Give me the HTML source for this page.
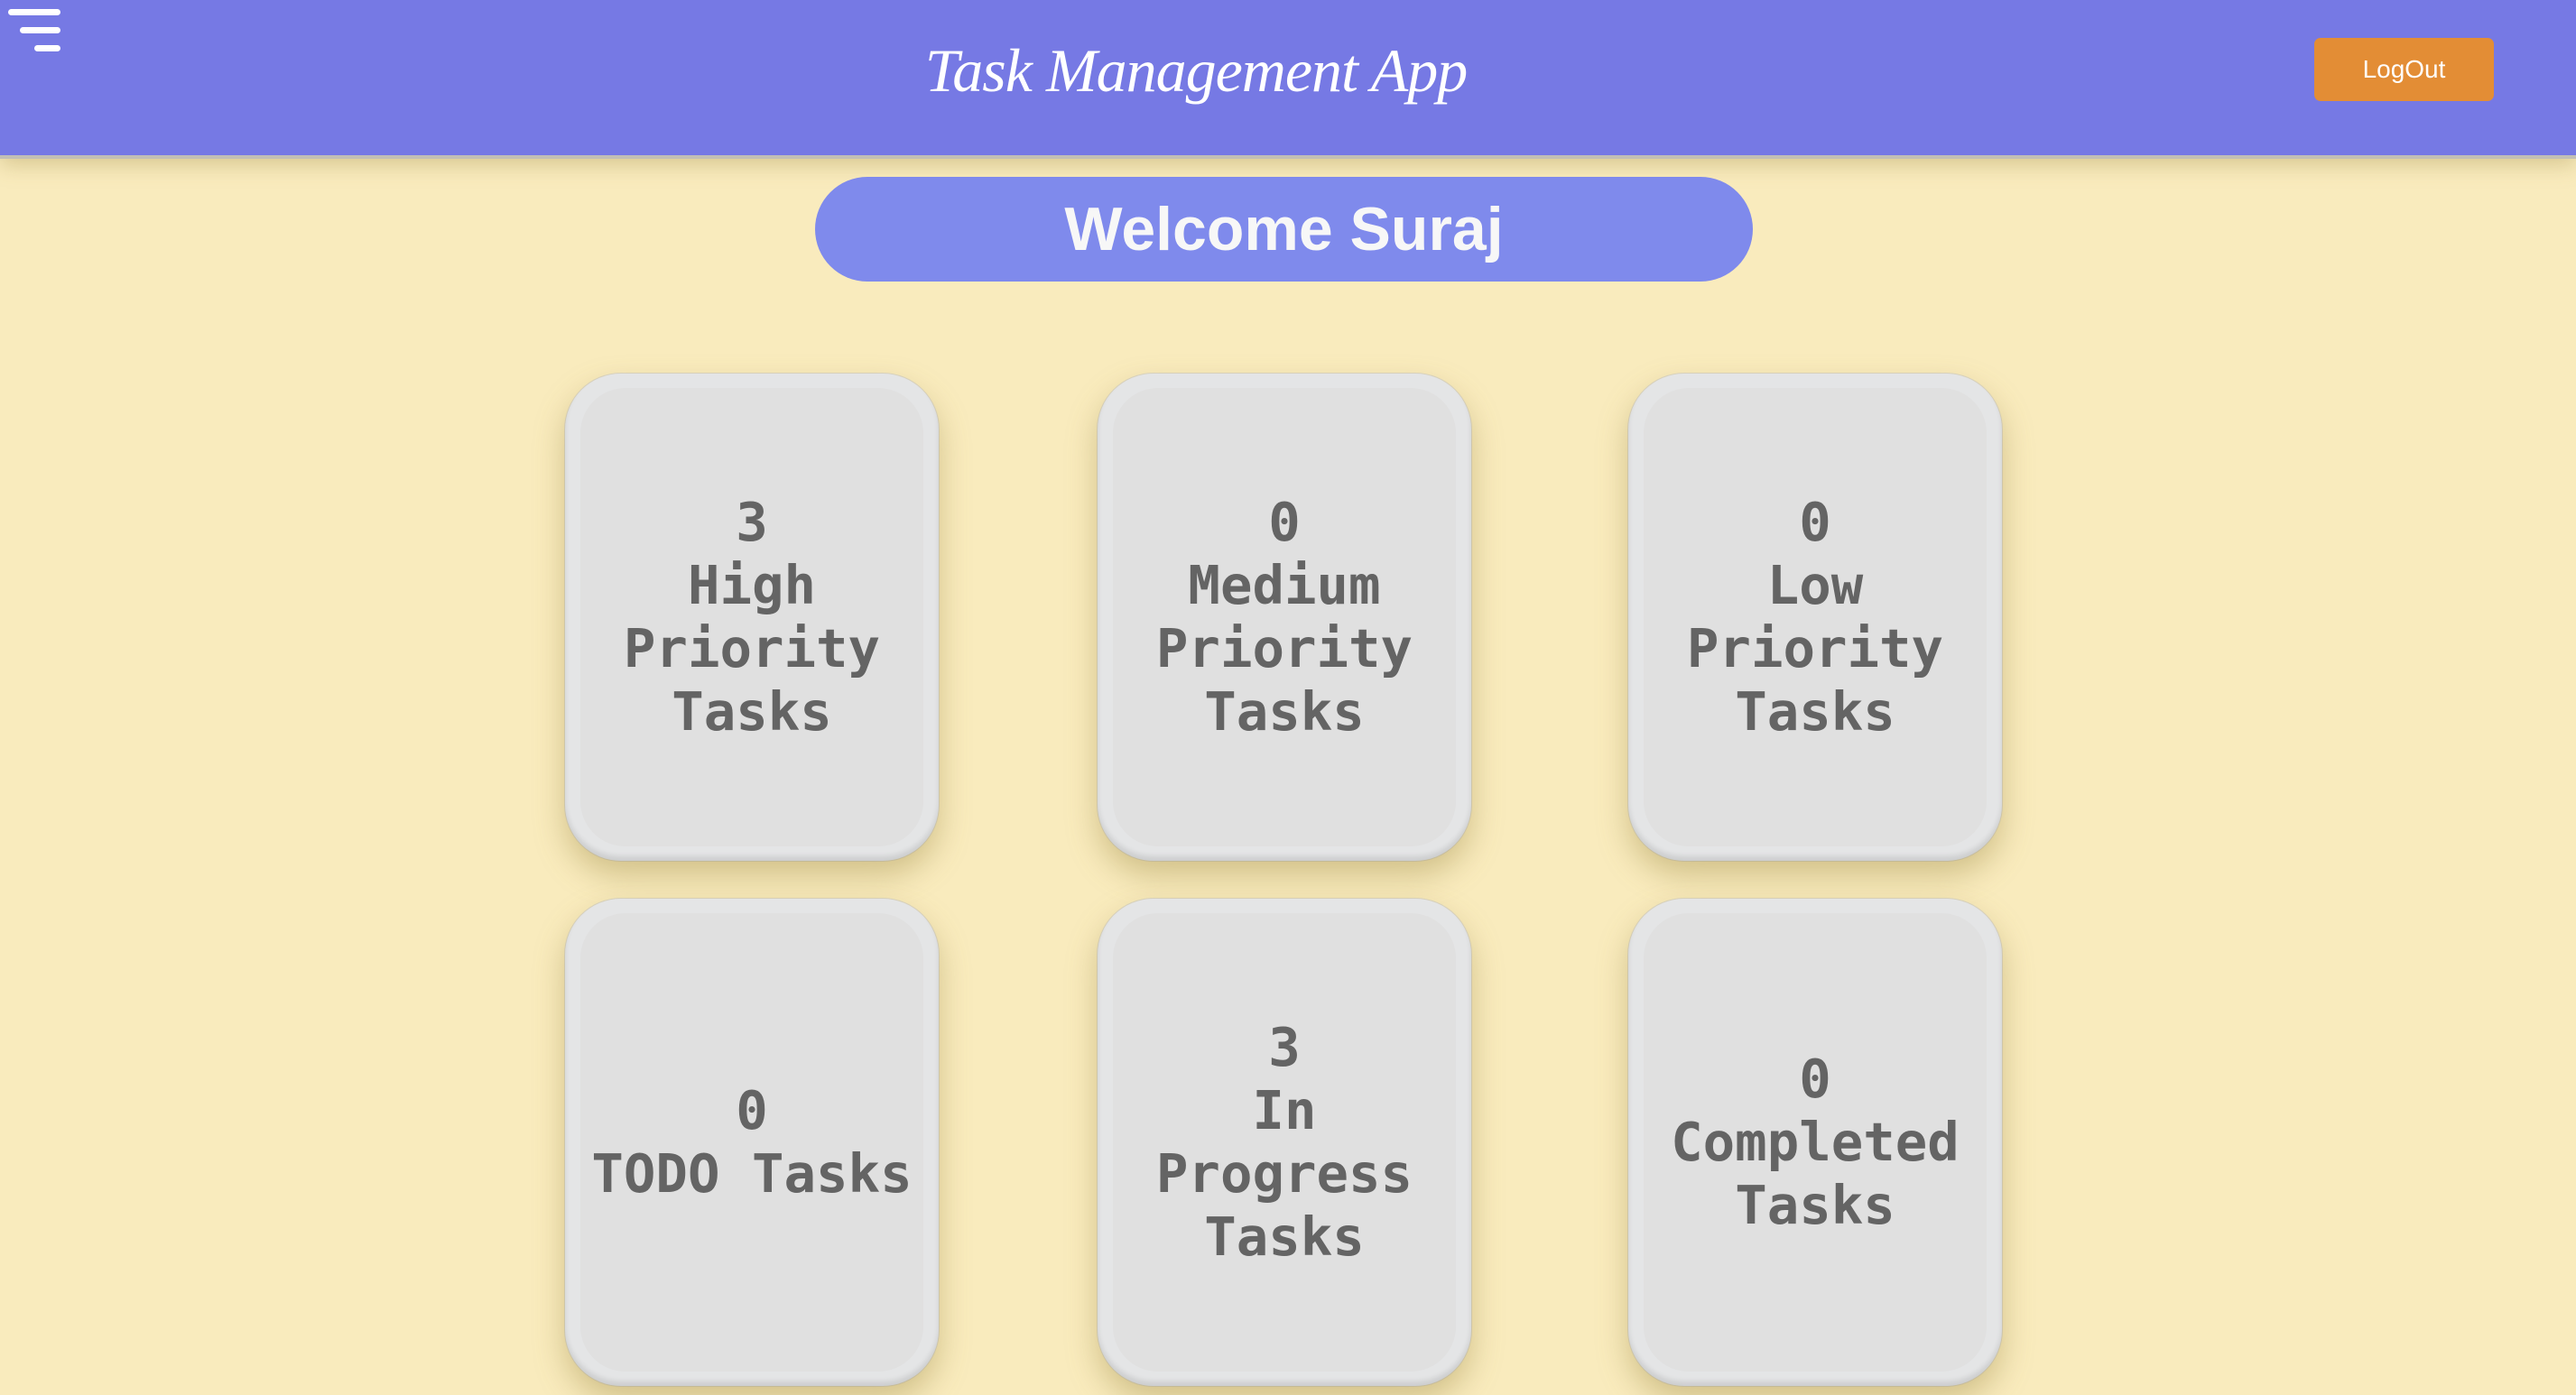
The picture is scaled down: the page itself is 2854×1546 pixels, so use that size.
<!DOCTYPE html>
<html><head><meta charset="utf-8"><style>
html,body{margin:0;padding:0;width:2854px;height:1546px;overflow:hidden;background:#f9ebbd;font-family:"Liberation Sans",sans-serif;}
.hdr{position:absolute;left:0;top:0;width:2854px;height:172px;background:#7679e4;border-bottom:4px solid #c2bfb5;box-shadow:0 6px 22px rgba(150,130,60,.35);}
.hb{position:absolute;height:7px;border-radius:4px;background:#fff;}
.title{position:absolute;left:925px;top:39px;width:800px;text-align:center;color:#fff;font-family:"Liberation Serif",serif;font-style:italic;font-size:68px;white-space:nowrap;letter-spacing:-1px;}
.logout{position:absolute;left:2564px;top:42px;width:199px;height:70px;background:#e38d35;border-radius:7px;color:#fff;font-size:28px;line-height:70px;text-align:center;}
.pill{position:absolute;left:903px;top:196px;width:1039px;height:116px;border-radius:58px;background:#7f8aec;text-align:center;}
.pill span{display:inline-block;color:#f7f7f7;font-weight:bold;font-size:68px;line-height:116px;white-space:nowrap;}
.card{position:absolute;width:414px;height:540px;border-radius:62px;background:#e4e5e6;box-shadow:0 16px 34px rgba(150,130,60,.4), inset 0 -5px 6px rgba(0,0,0,.1), 0 0 0 1px rgba(200,200,200,.6);}
.card .in{position:absolute;left:17px;top:16px;right:17px;bottom:16px;border-radius:50px;background:#e0e0e0;display:flex;align-items:center;justify-content:center;text-align:center;color:#646464;font-family:"DejaVu Sans Mono","Liberation Mono",monospace;font-weight:bold;font-size:59px;line-height:70px;}
</style></head><body>
<div class="hdr">
<div class="hb" style="left:9px;top:10px;width:58px"></div>
<div class="hb" style="left:22px;top:30px;width:45px"></div>
<div class="hb" style="left:38px;top:50px;width:29px"></div>
<div class="title">Task Management App</div>
<div class="logout">LogOut</div>
</div>
<div class="pill"><span>Welcome Suraj</span></div>

<div class="card" style="left:626px;top:414px"><div class="in">3<br>High<br>Priority<br>Tasks</div></div>
<div class="card" style="left:1216px;top:414px"><div class="in">0<br>Medium<br>Priority<br>Tasks</div></div>
<div class="card" style="left:1804px;top:414px"><div class="in">0<br>Low<br>Priority<br>Tasks</div></div>
<div class="card" style="left:626px;top:996px"><div class="in">0<br>TODO&nbsp;Tasks</div></div>
<div class="card" style="left:1216px;top:996px"><div class="in">3<br>In<br>Progress<br>Tasks</div></div>
<div class="card" style="left:1804px;top:996px"><div class="in">0<br>Completed<br>Tasks</div></div>
</body></html>
